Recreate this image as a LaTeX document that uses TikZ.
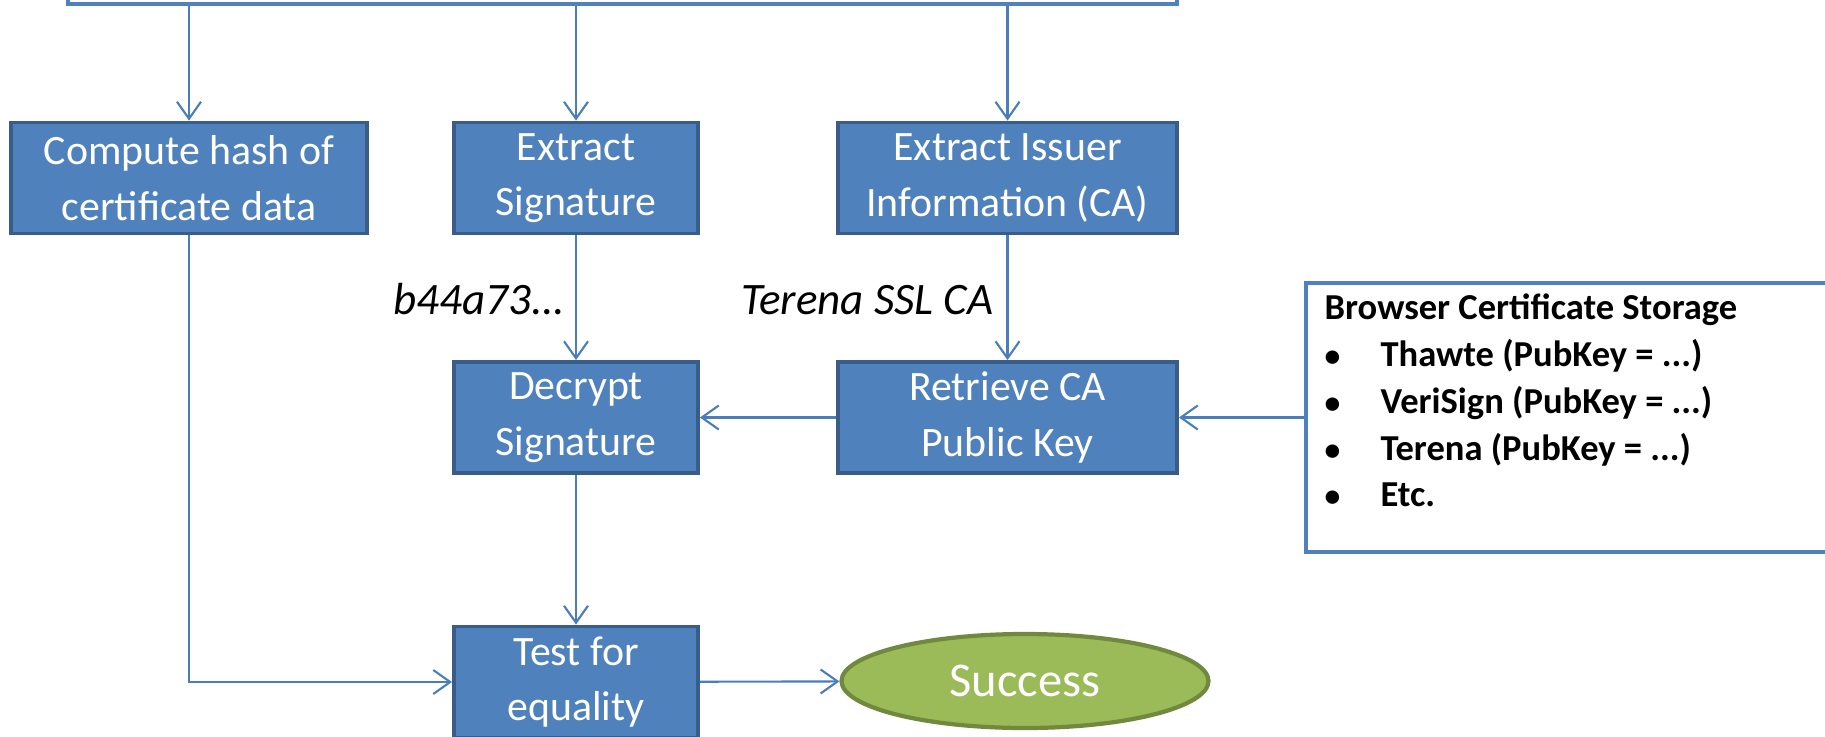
\documentclass[tikz,border=0pt]{standalone}
\usepackage{fontspec}
\setmainfont{Carlito}
\usetikzlibrary{arrows.meta,shapes.geometric}
\definecolor{boxblue}{RGB}{79,129,189}
\definecolor{boxedge}{RGB}{56,93,138}
\definecolor{linkblue}{RGB}{74,126,187}
\definecolor{okgreen}{RGB}{155,187,89}
\definecolor{okedge}{RGB}{113,137,63}

\begin{document}
\begin{tikzpicture}[>={Straight Barb[length=1.7mm,width=2.4mm]},
	stepbox/.style={draw=boxedge, line width=1.1pt, fill=boxblue, text=white, align=center,
		minimum height=1.11cm, inner sep=0pt, font=\fontsize{11.9}{15.8}\selectfont},
	link/.style={draw=linkblue, line width=0.6pt},
	tag/.style={inner sep=0pt, font=\fontsize{12.8}{15}\selectfont\itshape}]
			\useasboundingbox (0,0) rectangle (18.25,-7.36);
			% Certificate box at the top (cut by the page)
			\node[draw=boxblue, line width=1.2pt, fill=white, minimum width=11.09cm, minimum height=1.2cm] (src) at (6.225,0.56) {};
			
			% Nodes - Row 1
			\node[stepbox, minimum width=3.56cm] (hash) at (1.89,-1.78) {Compute hash of\\certificate data};
			\node[stepbox, minimum width=2.44cm] (exsig) at (5.76,-1.78) {Extract\\Signature};
			\node[stepbox, minimum width=3.39cm] (exiss) at (10.075,-1.78) {Extract Issuer\\Information (CA)};
			
			% Nodes - Row 2
			\node[stepbox, minimum width=2.44cm] (decr) at (5.76,-4.175) {Decrypt\\Signature};
			\node[stepbox, minimum width=3.39cm] (retr) at (10.075,-4.175) {Retrieve CA\\Public Key};
			\node[draw=boxblue, line width=1.2pt, minimum width=5.94cm, minimum height=2.69cm] (store) at (16.03,-4.175) {};
			\node[anchor=base west, inner sep=0pt, font=\fontsize{10.4}{13.3}\selectfont\bfseries] (storelist)
				at ([xshift=0.2cm,yshift=-0.39cm]store.north west)
				{\begin{tabular}[t]{@{}p{0.56cm}@{}l@{}}
					\multicolumn{2}{@{}l@{}}{Browser Certificate Storage}\\
					{\small\textbullet} & Thawte (PubKey = ...)\\
					{\small\textbullet} & VeriSign (PubKey = ...)\\
					{\small\textbullet} & Terena (PubKey = ...)\\
					{\small\textbullet} & Etc.
				\end{tabular}};
			
			% Nodes - Row 3
			\node[stepbox, minimum width=2.44cm] (test) at (5.76,-6.82) {Test for\\equality};
			\node[ellipse, draw=okedge, line width=1.2pt, fill=okgreen, text=white, minimum width=3.67cm, minimum height=0.94cm,
				font=\fontsize{13.8}{16}\selectfont] (succ) at (10.25,-6.81) {Success};
			
			% Values read out of the certificate
			\node[tag, anchor=base east] (sigval) at (5.66,-3.14) {b44a73...};
			\node[tag, anchor=base east] (caname) at (9.94,-3.14) {Terena SSL CA};
			
			% Edges
			\draw[link, ->] (hash.north |- src.south) -- (hash.north);
			\draw[link, ->] (exsig.north |- src.south) -- (exsig.north);
			\draw[link, ->] (exiss.north |- src.south) -- (exiss.north);
			\draw[link, ->] (exsig) -- (decr); \draw[link, ->] (exiss) -- (retr);
			\draw[link, ->] (retr) -- (decr); \draw[link, ->] (store.west) -- (retr.east);
			\draw[link, ->] (decr) -- (test); \draw[link, ->] (hash.south) |- (test.west);
			\draw[link, ->] (test) -- (succ);
		\end{tikzpicture}
\end{document}
